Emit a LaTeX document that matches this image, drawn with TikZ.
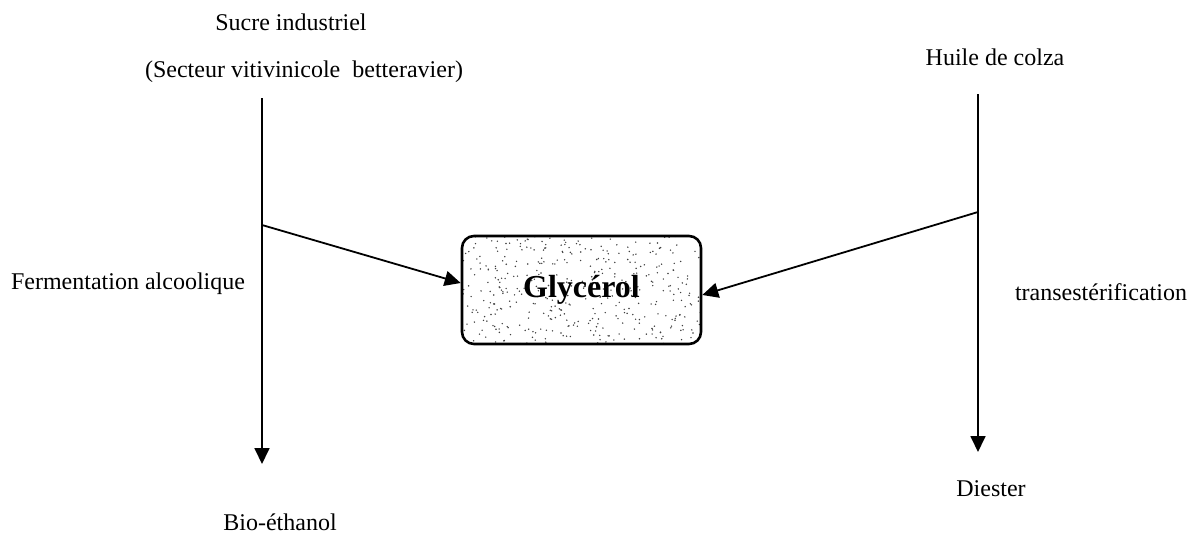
\documentclass[tikz,border=0pt]{standalone}
\usepackage{fontspec}
\setmainfont{Liberation Serif}
\usetikzlibrary{arrows.meta}
\begin{document}
\begin{tikzpicture}[x=0.5pt,y=-0.5pt,
  lbl/.style={inner sep=0pt,font=\fontsize{12pt}{14pt}\selectfont},
  conn/.style={line width=0.9pt,-{Triangle[length=8pt,width=7.5pt]}},
  boxst/.style={draw,line width=1.3pt,rounded corners=6pt,minimum width=119.5pt,minimum height=54pt,inner sep=0pt,font=\fontsize{16pt}{19pt}\selectfont\bfseries}]
\useasboundingbox (0,0) rectangle (1191,541);
% stippled fill
\begin{scope}
\clip[rounded corners=6pt] (462,236) rectangle (701,344);
\pgfmathsetseed{7}
\foreach \i in {1,...,420} {\fill[black!75] ({462+rnd*239},{236+rnd*108}) circle (0.4pt);}
\end{scope}
\node[boxst] (glyc) at (581.5,290) {Glycérol};
% labels
\node[lbl] (sucre) at (291,22) {Sucre industriel};
\node[lbl] (secteur) at (304,72) {(Secteur vitivinicole\ \ betteravier)};
\node[lbl] (ferm) at (128,284) {Fermentation alcoolique};
\node[lbl] (bio) at (280,522) {Bio-éthanol};
\node[lbl] (huile) at (995,57) {Huile de colza};
\node[lbl] (trans) at (1101,292) {transestérification};
\node[lbl] (dies) at (991,489) {Diester};
% connectors
\coordinate (ltop) at (262,98);
\coordinate (lbr) at (262,225);
\coordinate (lbot) at (262,464);
\coordinate (rtop) at (978,94);
\coordinate (rbr) at (978,212);
\coordinate (rbot) at (978,452);
\draw[conn] (ltop) -- (lbot);
\draw[conn] (rtop) -- (rbot);
\draw[conn] (lbr) -- ([yshift=3.5pt]glyc.west);
\draw[conn] (rbr) -- ([yshift=-2.5pt]glyc.east);
\end{tikzpicture}
\end{document}
